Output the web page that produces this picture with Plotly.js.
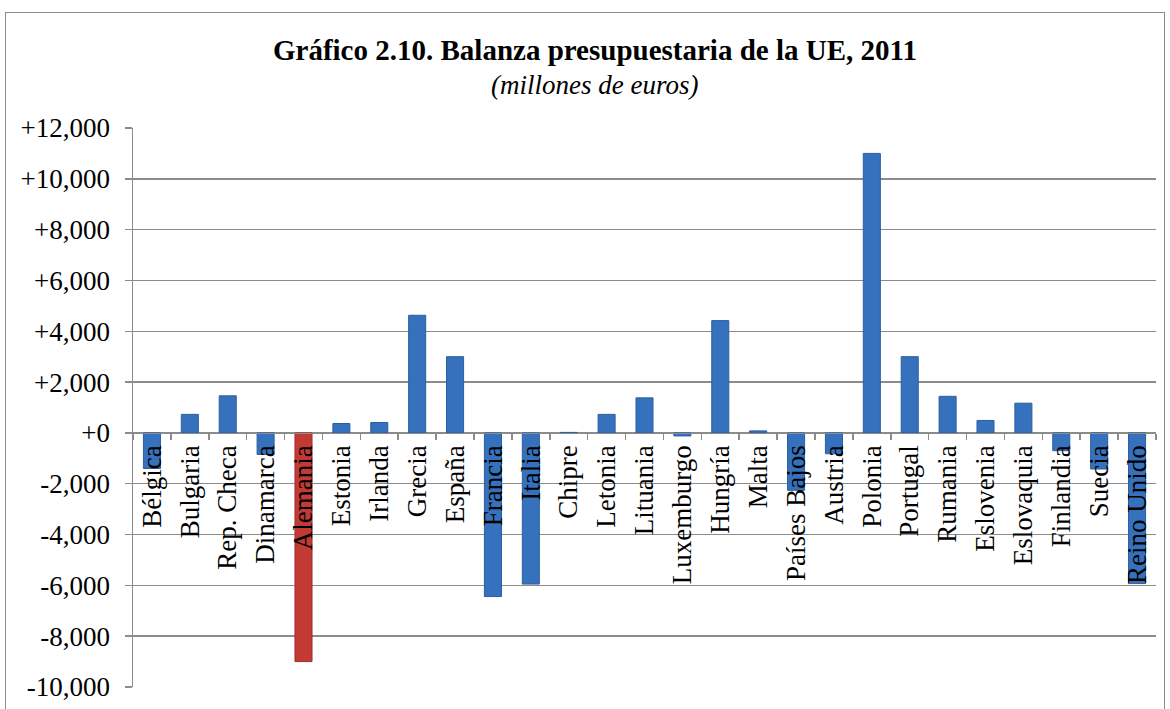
<!DOCTYPE html>
<html>
<head>
<meta charset="utf-8">
<script src="https://cdn.plot.ly/plotly-3.0.1.min.js"></script>
<style>
  html, body { margin: 0; padding: 0; background: #fff; }
  #wrap { position: relative; width: 1170px; height: 709px; overflow: hidden; }
  #frame { position: absolute; left: 5px; top: 12px; width: 1160px; height: 740px; border: 1.5px solid #8c8c8c; box-sizing: border-box; pointer-events: none; z-index: 5; }
  #chart { position: absolute; left: 0; top: 0; width: 1170px; height: 709px; }
</style>
</head>
<body>
<div id="wrap">
  <div id="chart"></div>
  <div id="frame"></div>
</div>
<script>
const countries = ["Bélgica","Bulgaria","Rep. Checa","Dinamarca","Alemania","Estonia","Irlanda","Grecia","España","Francia","Italia","Chipre","Letonia","Lituania","Luxemburgo","Hungría","Malta","Países Bajos","Austria","Polonia","Portugal","Rumania","Eslovenia","Eslovaquia","Finlandia","Suecia","Reino Unido"];
const balance = [-1400, 730, 1460, -850, -9000, 370, 410, 4630, 3000, -6440, -5950, 20, 730, 1380, -120, 4420, 80, -2260, -820, 11000, 3000, 1440, 490, 1170, -700, -1420, -5930];
const yTickVals = [12000, 10000, 8000, 6000, 4000, 2000, 0, -2000, -4000, -6000, -8000, -10000];
const yTickText = ["+12,000","+10,000","+8,000","+6,000","+4,000","+2,000","+0","-2,000","-4,000","-6,000","-8,000","-10,000"];
const chartTitle = "Gráfico 2.10. Balanza presupuestaria de la UE, 2011";
const chartSubtitle = "(millones de euros)";
const highlight = "Alemania";

const colors = countries.map(c => c === highlight ? "#c23a34" : "#3671bd");
const lineColors = countries.map(c => c === highlight ? "#a52c28" : "#2d5f9f");

const yMin = -10000, yMax = 12000;
const serif = "'Liberation Serif', 'Times New Roman', Times, serif";

const trace = {
  type: "bar",
  x: countries,
  y: balance,
  width: 0.45,
  marker: { color: colors, line: { color: lineColors, width: 1 } },
  hoverinfo: "x+y"
};

const layout = {
  width: 1170, height: 709,
  margin: { l: 133, r: 14, t: 128, b: 22 },
  paper_bgcolor: "#ffffff",
  plot_bgcolor: "#ffffff",
  showlegend: false,
  font: { family: serif, color: "#000" },
  title: {
    text: "<b>" + chartTitle + "</b>",
    font: { family: serif, size: 29, color: "#000" },
    x: 0.5085, xref: "container", xanchor: "center",
    y: 1 - 50/709, yref: "container", yanchor: "middle"
  },
  annotations: [{
    text: "<i>" + chartSubtitle + "</i>",
    xref: "paper", yref: "paper",
    x: (594 - 133) / (1170 - 133 - 14), xanchor: "center",
    y: 1 + (128 - 85) / (709 - 128 - 22), yanchor: "middle",
    showarrow: false,
    font: { family: serif, size: 27, color: "#000" }
  }],
  xaxis: {
    type: "category",
    anchor: "free",
    position: (0 - yMin) / (yMax - yMin),
    showline: true, linecolor: "#8c8c8c", linewidth: 1.5,
    ticks: "outside", tickson: "boundaries", ticklen: 6, tickcolor: "#8c8c8c", tickwidth: 1.5,
    tickangle: -90,
    tickfont: { family: serif, size: 27, color: "#000" },
    showgrid: false, zeroline: false,
    fixedrange: true
  },
  yaxis: {
    range: [yMin, yMax],
    tickvals: yTickVals,
    ticktext: yTickText,
    tickfont: { family: serif, size: 27, color: "#000" },
    showline: true, linecolor: "#8c8c8c", linewidth: 1.5,
    ticks: "outside", ticklen: 7, tickcolor: "#8c8c8c", tickwidth: 1.5,
    ticklabelstandoff: 9,
    showgrid: true, gridcolor: "#8c8c8c", gridwidth: 1.5,
    zeroline: true, zerolinecolor: "#8c8c8c", zerolinewidth: 1.5,
    fixedrange: true
  },
  bargap: 0.55
};

Plotly.newPlot("chart", [trace], layout, { displayModeBar: false, staticPlot: true });
</script>
</body>
</html>
